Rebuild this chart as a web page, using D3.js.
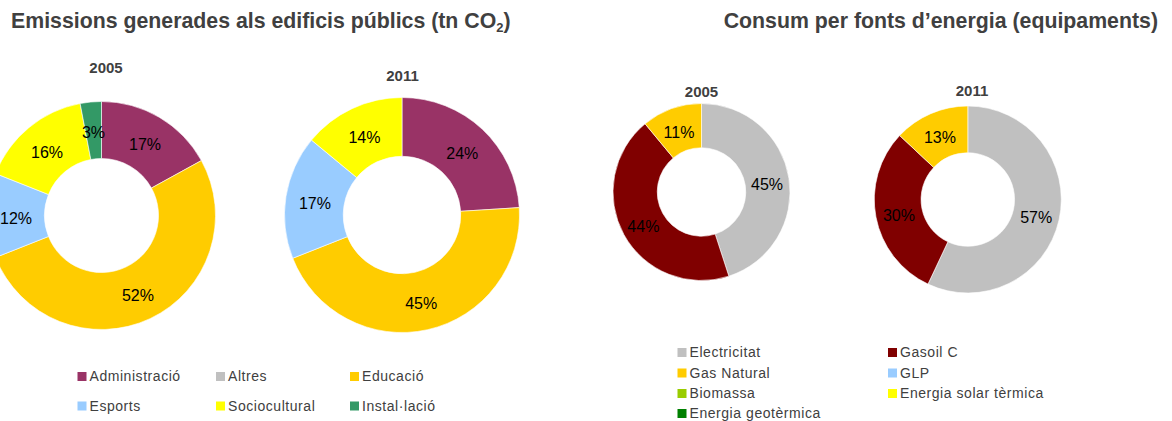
<!DOCTYPE html>
<html>
<head>
<meta charset="utf-8">
<script src="https://cdn.jsdelivr.net/npm/d3@7"></script>
<style>
  html, body { margin: 0; padding: 0; background: #fff; }
  svg { display: block; font-family: "Liberation Sans", Arial, sans-serif; }
</style>
</head>
<body>
<svg id="chart" width="1172" height="421"></svg>
<script>
// Emissions of public buildings by use (share of tn CO2)
const emissionCategories = ["Administració", "Altres", "Educació", "Esports", "Sociocultural", "Instal·lació"];
const emissionColors = ["#993366", "#C0C0C0", "#FFCC00", "#99CCFF", "#FFFF00", "#339966"];
const emissions2005 = [17, 0, 52, 12, 16, 3];
const emissions2011 = [24, 0, 45, 17, 14, 0];

// Energy consumption of municipal facilities by source (share)
const energyCategories = ["Electricitat", "Gasoil C", "Gas Natural", "GLP", "Biomassa", "Energia solar tèrmica", "Energia geotèrmica"];
const energyColors = ["#C0C0C0", "#800000", "#FFCC00", "#99CCFF", "#99CC00", "#FFFF00", "#008000"];
const energy2005 = [45, 44, 11, 0, 0, 0, 0];
const energy2011 = [57, 30, 13, 0, 0, 0, 0];

const years = ["2005", "2011"];

const svg = d3.select("#chart");
const ink = "#404040";

// Section titles
const t1 = svg.append("text")
  .attr("x", 11).attr("y", 28)
  .attr("font-size", 21.3).attr("font-weight", "bold").attr("fill", ink);
t1.append("tspan").text("Emissions generades als edificis públics (tn CO");
t1.append("tspan").attr("font-size", 13).attr("dy", 4).text("2");
t1.append("tspan").attr("dy", -4).text(")");

svg.append("text")
  .attr("x", 1158).attr("y", 28)
  .attr("text-anchor", "end")
  .attr("font-size", 21.3).attr("font-weight", "bold").attr("fill", ink)
  .text("Consum per fonts d’energia (equipaments)");

// Draws one doughnut with its year caption and value labels
function donut(values, colors, cfg) {
  const g = svg.append("g").attr("transform", `translate(${cfg.cx},${cfg.cy})`);
  const pie = d3.pie().sort(null).value(d => d);
  const arcs = pie(values).map((a, i) => ({ ...a, color: colors[i] })).filter(a => a.value > 0);
  const arc = d3.arc().innerRadius(cfg.r * cfg.hole).outerRadius(cfg.r);

  g.selectAll("path.slice").data(arcs).join("path")
    .attr("class", "slice")
    .attr("d", arc)
    .attr("fill", d => d.color)
    .attr("stroke", "#ffffff")
    .attr("stroke-width", 0.6);

  g.selectAll("text.pct").data(arcs).join("text")
    .attr("class", "pct")
    .attr("x", d => arc.centroid(d)[0])
    .attr("y", d => arc.centroid(d)[1] + 2.5)
    .attr("dy", "0.35em")
    .attr("text-anchor", "middle")
    .attr("font-size", 16)
    .attr("fill", "#000")
    .text(d => `${d.value}%`);

  svg.append("text")
    .attr("x", cfg.tx).attr("y", cfg.ty)
    .attr("text-anchor", "middle")
    .attr("font-size", 15).attr("font-weight", "bold").attr("fill", ink)
    .text(cfg.year);
}

donut(emissions2005, emissionColors, { cx: 101.5, cy: 215.5, r: 114, hole: 0.5, tx: 106, ty: 73, year: years[0] });
donut(emissions2011, emissionColors, { cx: 402, cy: 215, r: 117.5, hole: 0.5, tx: 402.5, ty: 80.5, year: years[1] });
donut(energy2005, energyColors, { cx: 701.5, cy: 192, r: 88.5, hole: 0.5, tx: 701.5, ty: 96.5, year: years[0] });
donut(energy2011, energyColors, { cx: 967.8, cy: 199.5, r: 93.5, hole: 0.5, tx: 972, ty: 95.5, year: years[1] });

// Legends
function legend(names, colors, cols, colX, rowY) {
  const items = names.map((n, i) => ({ n, c: colors[i], col: i % cols, row: Math.floor(i / cols) }));
  const g = svg.append("g");
  const item = g.selectAll("g.item").data(items).join("g")
    .attr("class", "item")
    .attr("transform", d => `translate(${colX[d.col]},${rowY[d.row]})`);
  item.append("rect")
    .attr("x", 0).attr("y", -9).attr("width", 9).attr("height", 9)
    .attr("fill", d => d.c);
  item.append("text")
    .attr("x", 12).attr("y", 0)
    .attr("font-size", 14).attr("letter-spacing", 0.55).attr("fill", ink)
    .text(d => d.n);
}

legend(emissionCategories, emissionColors, 3, [77.5, 216, 350], [381, 410.5]);
legend(energyCategories, energyColors, 2, [677.5, 888], [357, 377.5, 398, 418]);
</script>
</body>
</html>
